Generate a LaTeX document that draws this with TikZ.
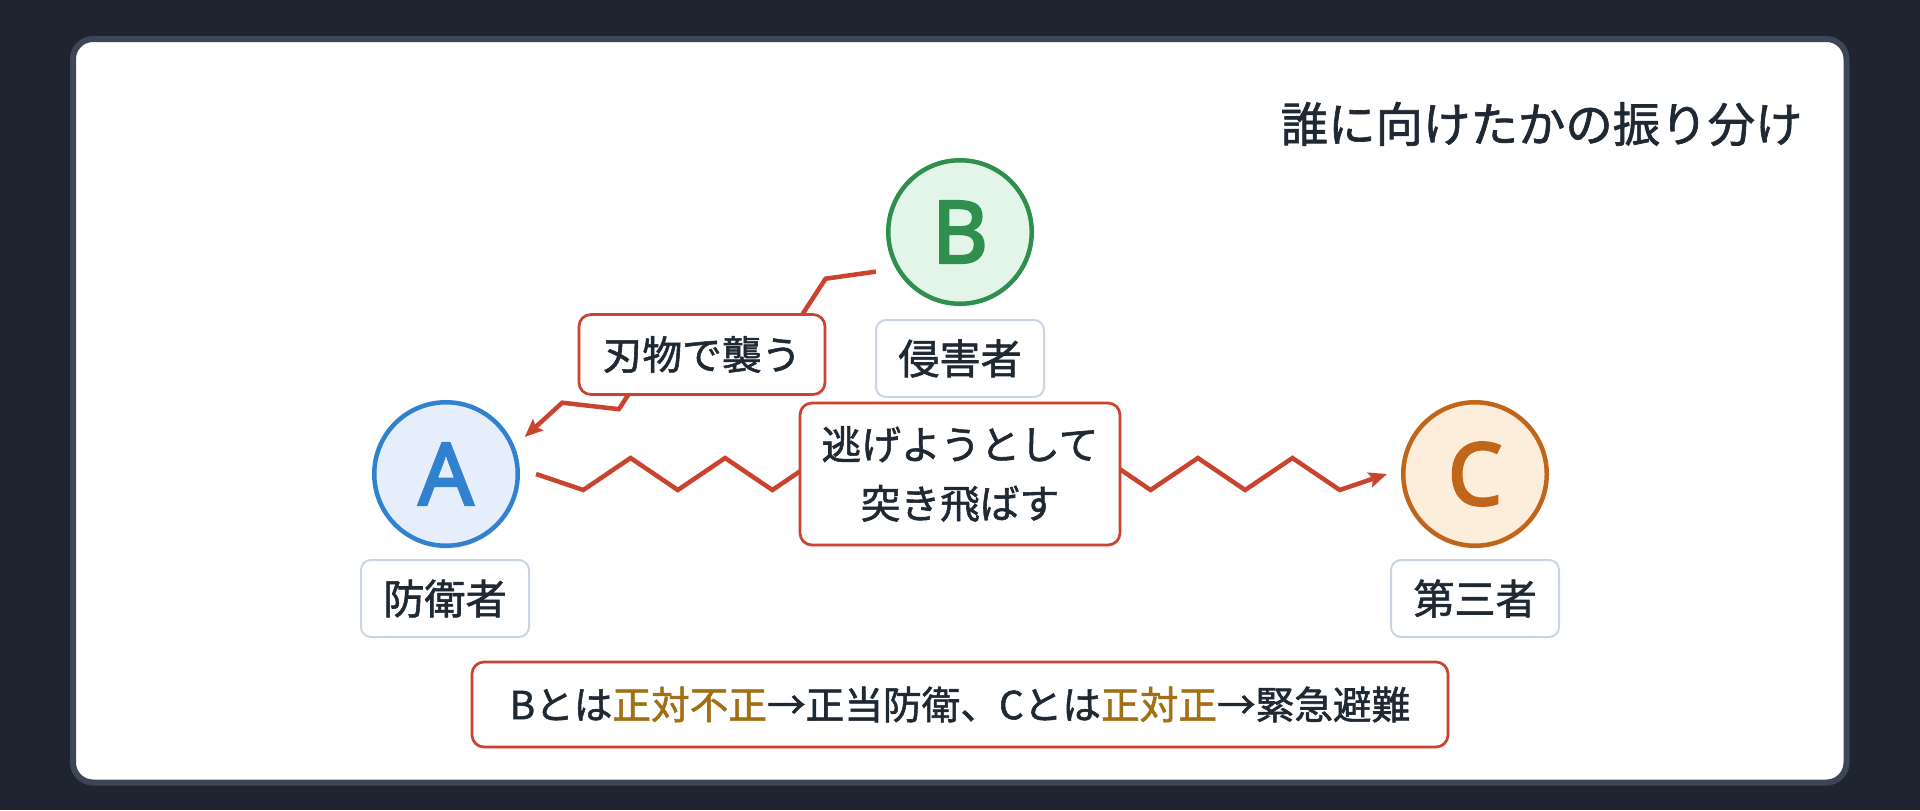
\documentclass[tikz,border=0pt]{standalone}
\usepackage{fontspec}
\setmainfont{Noto Sans CJK JP}[FakeBold=1.4]
\newfontfamily\letterfont{Noto Sans}[FakeBold=3]
\usetikzlibrary{calc,arrows.meta,shadows}
\definecolor{bgdark}{HTML}{1E2430}
\definecolor{panel}{HTML}{3C4656}
\definecolor{ink}{HTML}{1F2933}
\definecolor{zred}{HTML}{C9432F}
\definecolor{tagline}{HTML}{CBD5E1}
\definecolor{gold}{HTML}{A07012}
\definecolor{Ablue}{HTML}{3182CE}
\definecolor{Afill}{HTML}{E5EEFA}
\definecolor{Bgreen}{HTML}{2F8F4E}
\definecolor{Bfill}{HTML}{E3F5E8}
\definecolor{Corange}{HTML}{C0651A}
\definecolor{Cfill}{HTML}{FDEEDC}
\begin{document}
\begin{tikzpicture}[
    zig/.style={draw=zred, line width=0.045cm, line join=miter},
    tip/.style={-{Stealth[length=0.18cm,width=0.15cm,inset=0.03cm]}},
    circ/.style={circle, line width=0.045cm, minimum size=1.435cm, inner sep=0pt,
        font=\letterfont\fontsize{24.5}{24.5}\selectfont,
        drop shadow={opacity=0.08, shadow xshift=0cm, shadow yshift=-0.03cm}},
    tag/.style={draw=tagline, fill=white, rounded corners=0.1cm, line width=0.02cm,
        minimum width=1.68cm, minimum height=0.77cm, inner sep=0pt, text=ink,
        font=\fontsize{11.7}{13}\selectfont},
    act/.style={draw=zred, fill=white, rounded corners=0.12cm, line width=0.027cm,
        inner sep=0pt, text=ink, align=center, font=\fontsize{11.3}{16.8}\selectfont,
        drop shadow={opacity=0.08, shadow xshift=0cm, shadow yshift=-0.03cm}}]
    \useasboundingbox (0,0) rectangle (19.2,8.1);
    \fill[bgdark] (0,0) rectangle (19.2,8.1);
    \draw[panel, fill=white, line width=0.06cm, rounded corners=0.2cm]
        (0.73,0.275) rectangle (18.465,7.71);

    \node[anchor=east, text=ink, font=\fontsize{13.5}{13.5}\selectfont] (T) at (18.15,6.86) {誰に向けたかの振り分け};

    \node[circ, draw=Ablue, fill=Afill, text=Ablue] (A) at (4.46,3.36) {A};
    \node[circ, draw=Bgreen, fill=Bfill, text=Bgreen] (B) at (9.60,5.78) {B};
    \node[circ, draw=Corange, fill=Cfill, text=Corange] (C) at (14.75,3.36) {C};

    \coordinate (Z0) at ($(B.center)!0.93cm!(A.center)$);
    \coordinate (Z1) at ($(A.center)!0.87cm!(B.center)$);
    \coordinate (Z2) at ($(A.center)!0.90cm!(C.center)$);
    \coordinate (Z3) at ($(C.center)!0.88cm!(A.center)$);

    \draw[zig, tip] (Z0)
        \foreach \i [evaluate=\i as \s using {mod(\i,2)==1 ? -90 : 90}] in {1,...,7}
        { -- ($(Z0)!\i/8!(Z1) + (Z0)!0.15cm!\s:(Z1) - (Z0)$) } -- (Z1);
    \draw[zig, tip] (Z2)
        \foreach \i [evaluate=\i as \s using {mod(\i,2)==1 ? -90 : 90}] in {1,...,17}
        { -- ($(Z2)!\i/18!(Z3) + (Z2)!0.16cm!\s:(Z3) - (Z2)$) } -- (Z3);

    \node[tag] (LA) at (4.45,2.115) {防衛者};
    \node[tag] (LB) at (9.60,4.515) {侵害者};
    \node[tag] (LC) at (14.75,2.115) {第三者};

    \node[act, minimum width=2.46cm, minimum height=0.80cm] (E1) at (7.02,4.555) {刃物で襲う};
    \node[act, minimum width=3.20cm, minimum height=1.42cm] (E2) at (9.60,3.36) {逃げようとして\\突き飛ばす};

    \node[act, minimum width=9.76cm, minimum height=0.85cm, font=\fontsize{11}{13}\selectfont] (S) at (9.60,1.055)
        {Bとは{\color{gold}正対不正}→正当防衛、Cとは{\color{gold}正対正}→緊急避難};
\end{tikzpicture}
\end{document}
